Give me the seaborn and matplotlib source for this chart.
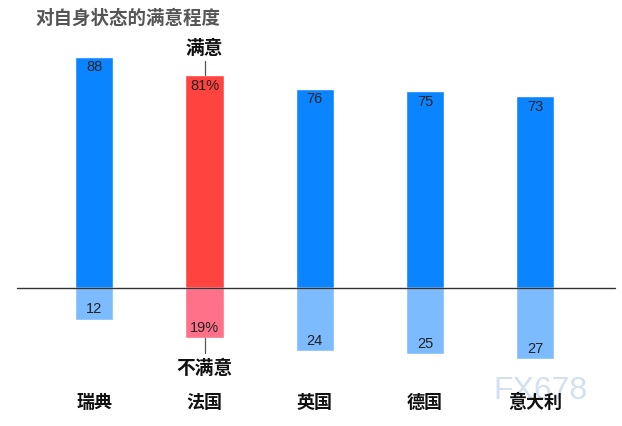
import matplotlib
matplotlib.use("Agg")
import matplotlib.pyplot as plt
import seaborn as sns
import pandas as pd

sns.set_theme(style="white")
plt.rcParams['font.family'] = ['Noto Sans CJK SC', 'DejaVu Sans']

countries = ["瑞典", "法国", "英国", "德国", "意大利"]
satisfied = [88, 81, 76, 75, 73]
unsatisfied = [12, 19, 24, 25, 27]
sat_labels = ["88", "81%", "76", "75", "73"]
unsat_labels = ["12", "19%", "24", "25", "27"]
title = "对自身状态的满意程度"

sat_colors = ["#0A84FF", "#FF4440", "#0A84FF", "#0A84FF", "#0A84FF"]
unsat_colors = ["#7DBBFF", "#FF7189", "#7DBBFF", "#7DBBFF", "#7DBBFF"]

df = pd.DataFrame({"country": countries, "sat": satisfied,
                   "unsat": [-u for u in unsatisfied]})

fig = plt.figure(figsize=(6.22, 4.27), dpi=100)
ax = fig.add_axes([0, 0, 1, 1])

sns.barplot(data=df, x="country", y="sat", hue="country", palette=sat_colors,
            width=0.345, legend=False, ax=ax, saturation=1)
sns.barplot(data=df, x="country", y="unsat", hue="country", palette=unsat_colors,
            width=0.345, legend=False, ax=ax, saturation=1)

ax.set_xlim(-0.855, 4.787)
ax.set_ylim(-52.57, 110.1)
ax.axis("off")

ax.axhline(0, xmin=17/622, xmax=615/622, color="#333333", lw=1, zorder=5)

# watermark
ax.text(4.045, -39.0, "FX678", ha="center", va="center", fontsize=23,
        family=["Liberation Sans"], color="#D3E0F2", zorder=3)

num_font = dict(family=["Liberation Sans", "DejaVu Sans"], fontsize=10.5, color="#222222")
for i, (s, u) in enumerate(zip(satisfied, unsatisfied)):
    ax.text(i, s - 3.6, sat_labels[i], ha="center", va="center", **num_font)
    ax.text(i, -u + 4.2, unsat_labels[i], ha="center", va="center", **num_font)
    ax.text(i, -43.4, countries[i], ha="center", va="center", fontsize=13,
            fontweight="bold", color="#111111", zorder=6)

# annotations for France
ax.plot([1, 1], [81, 86.3], color="#555555", lw=0.9)
ax.text(1, 91.5, "满意", ha="center", va="center", fontsize=13.5, fontweight="bold", color="#111111")
ax.plot([1, 1], [-19, -24.8], color="#555555", lw=0.9)
ax.text(1, -30.3, "不满意", ha="center", va="center", fontsize=13.5, fontweight="bold", color="#111111")

fig.text(35/622, 1 - 18/427, title, ha="left", va="center", fontsize=13.3,
         fontweight="bold", color="#555555")

fig.savefig("out.png", dpi=100)
